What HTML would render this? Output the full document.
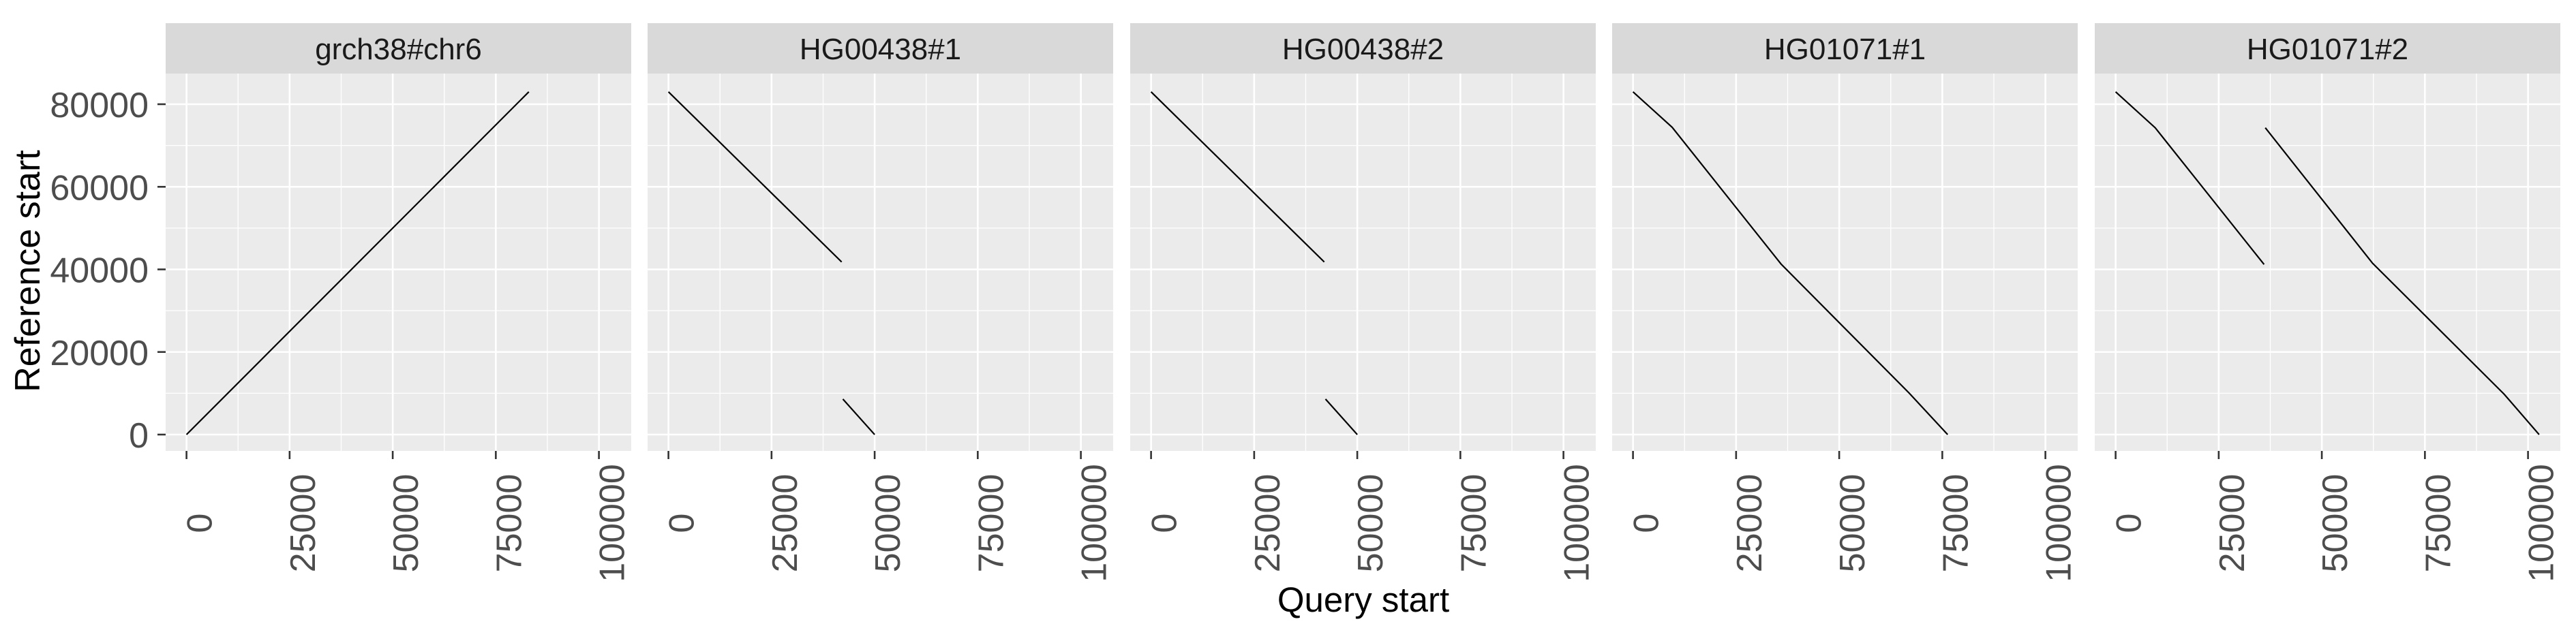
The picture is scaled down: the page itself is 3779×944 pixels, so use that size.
<!DOCTYPE html>
<html><head><meta charset="utf-8"><style>
html,body{margin:0;padding:0;background:#fff;}
svg{display:block;font-family:"Liberation Sans",sans-serif;}
</style></head><body>
<svg id="chart" width="3779" height="944" xmlns="http://www.w3.org/2000/svg">
<rect width="3779" height="944" fill="#fff"/>
<g id="plots"></g>
<text x="58" y="398" font-size="52" fill="#000" text-anchor="middle" transform="rotate(-90 58 398)">Reference start</text>
<text x="2000" y="898" font-size="51" fill="#000" text-anchor="middle">Query start</text>
</svg>
<script>
const panelNames = ["grch38#chr6","HG00438#1","HG00438#2","HG01071#1","HG01071#2"];
// each panel: list of segments; each segment: list of [query, reference] points
const seg_grch38 = [[[0,0],[83000,83000]]];
const seg_hg00438_1 = [[[0,83000],[42000,41800]],[[42300,8600],[50000,0]]];
const seg_hg00438_2 = [[[0,83000],[42000,41800]],[[42300,8600],[50000,0]]];
const seg_hg01071_1 = [[[0,83000],[9500,74400],[35900,41300],[67000,10000],[76300,0]]];
const seg_hg01071_2 = [[[0,83000],[9600,74300],[36000,41200]],[[36300,74300],[62300,41500],[94200,9800],[102700,0]]];
const xTicks = [0,25000,50000,75000,100000];
const yTicks = [0,20000,40000,60000,80000];
const xLabels = ["0","25000","50000","75000","100000"];
const yLabels = ["0","20000","40000","60000","80000"];

const allSegs=[seg_grch38,seg_hg00438_1,seg_hg00438_2,seg_hg01071_1,seg_hg01071_2];
const NS="http://www.w3.org/2000/svg";
const g=document.getElementById('plots');
const panelLeft=[243,950,1658,2365,3073], panelW=683;
const stripTop=34, stripBot=108, panelBot=662;
const xmin=-5060, xPerUnit=6.05/1000;
const y0px=638, yPerUnit=6.0625/1000;
function mk(tag,attrs){const e=document.createElementNS(NS,tag);for(const k in attrs)e.setAttribute(k,attrs[k]);return e;}
function yS(v){return y0px - v*yPerUnit;}
panelNames.forEach((name,i)=>{
  const L=panelLeft[i];
  const xS=v=>L+(v-xmin)*xPerUnit;
  const strip=mk('rect',{x:L,y:stripTop,width:panelW,height:stripBot-stripTop,fill:'#D9D9D9'});
  
  
  g.appendChild(strip);
  const st=mk('text',{x:L+panelW/2,y:(stripTop+stripBot)/2+16,'font-size':44,fill:'#1A1A1A','text-anchor':'middle'});
  st.textContent=name;
  
  
  g.appendChild(st);
  const bg=mk('rect',{x:L,y:stripBot,width:panelW,height:panelBot-stripBot,fill:'#EBEBEB'});
  
  
  g.appendChild(bg);
  for(let k=0;k<xTicks.length-1;k++){const v=(xTicks[k]+xTicks[k+1])/2;const l=mk('line',{x1:xS(v),x2:xS(v),y1:stripBot,y2:panelBot,stroke:'#fff','stroke-width':1.3});g.appendChild(l);}
  for(let k=0;k<yTicks.length-1;k++){const v=(yTicks[k]+yTicks[k+1])/2;const l=mk('line',{x1:L,x2:L+panelW,y1:yS(v),y2:yS(v),stroke:'#fff','stroke-width':1.3});g.appendChild(l);}
  xTicks.forEach((v,k)=>{
    const l=mk('line',{x1:xS(v),x2:xS(v),y1:stripBot,y2:panelBot,stroke:'#fff','stroke-width':2.6});
    
    
    g.appendChild(l);
    const t=mk('line',{x1:xS(v),x2:xS(v),y1:panelBot,y2:panelBot+12,stroke:'#333','stroke-width':2.6});
    
    
    g.appendChild(t);
    const tx=xS(v)+37, ty=768;
    const lb=mk('text',{x:tx,y:ty,'font-size':52,fill:'#4D4D4D','text-anchor':'middle',transform:`rotate(-90 ${tx} ${ty})`});
    lb.textContent=xLabels[k];
    
    
    g.appendChild(lb);
  });
  yTicks.forEach((v,k)=>{
    const l=mk('line',{x1:L,x2:L+panelW,y1:yS(v),y2:yS(v),stroke:'#fff','stroke-width':2.6});
    
    
    g.appendChild(l);
    if(i===0){
      const t=mk('line',{x1:L-12,x2:L,y1:yS(v),y2:yS(v),stroke:'#333','stroke-width':2.6});
      
      
      g.appendChild(t);
      const lb=mk('text',{x:218,y:yS(v)+19,'font-size':52,fill:'#4D4D4D','text-anchor':'end'});
      lb.textContent=yLabels[k];
      
      
      g.appendChild(lb);
    }
  });
  allSegs[i].forEach(seg=>{
    const pts=seg.map(p=>xS(p[0]).toFixed(1)+','+yS(p[1]).toFixed(1)).join(' ');
    const pl=mk('polyline',{points:pts,fill:'none',stroke:'#000','stroke-width':2.2});
    
    
    g.appendChild(pl);
  });
});
</script>
</body></html>
